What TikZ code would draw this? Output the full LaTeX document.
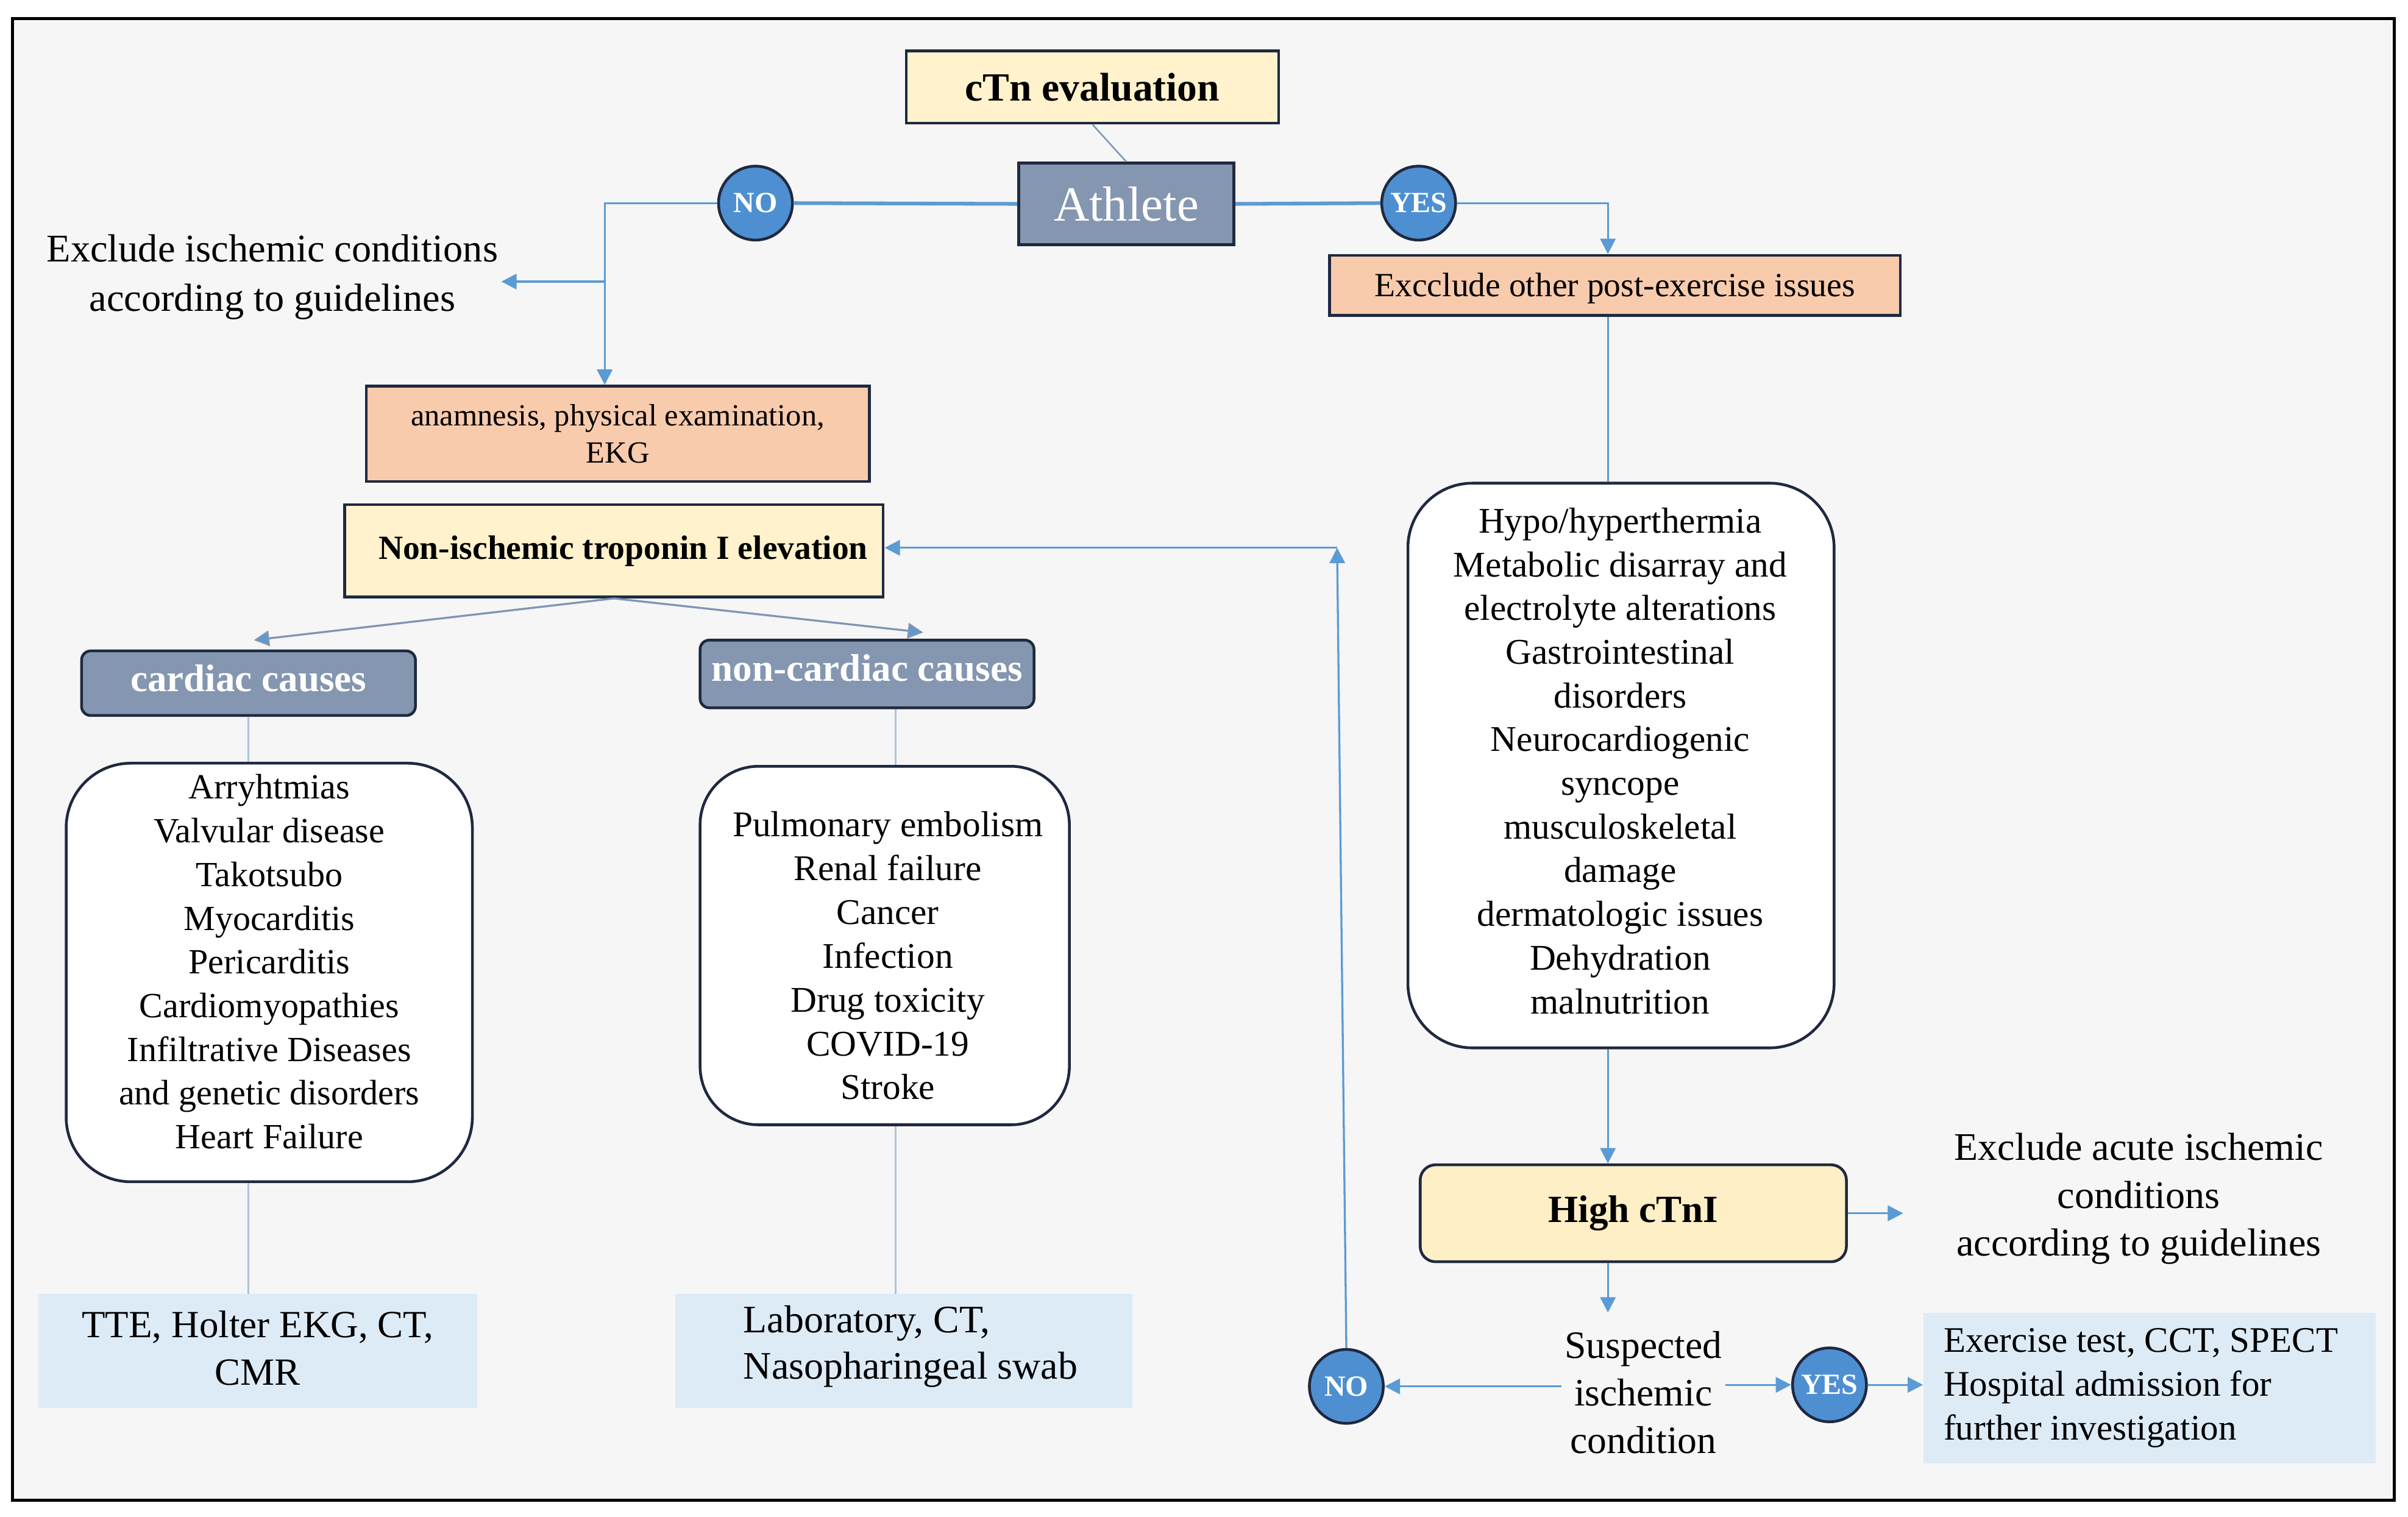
\documentclass[tikz,border=0pt]{standalone}
\usepackage{fontspec}
\setmainfont{Liberation Serif}
\usetikzlibrary{arrows.meta,calc}
\definecolor{bgc}{HTML}{F6F6F6}
\definecolor{yel}{HTML}{FFF2CC}
\definecolor{yelh}{HTML}{FFEFC6}
\definecolor{peach}{HTML}{F8CBAD}
\definecolor{slate}{HTML}{8496B0}
\definecolor{circ}{HTML}{4E8FD2}
\definecolor{lblue}{HTML}{DDEBF7}
\definecolor{bord}{HTML}{1F2940}
\definecolor{conn}{HTML}{5B9BD5}
\definecolor{pale}{HTML}{A9C4E2}
\definecolor{grayblue}{HTML}{7F95B5}
\tikzset{
  box/.style={draw=bord,line width=1.8pt,inner sep=0pt,align=center,text=black},
  listbox/.style={box,fill=white,rounded corners=42pt},
  circnode/.style={circle,draw=bord,line width=1.8pt,fill=circ,minimum size=48pt,inner sep=0pt,text=white,font=\fontsize{19}{20}\selectfont\bfseries},
  plain/.style={inner sep=2pt,align=center},
  arr/.style={draw=conn,line width=1.3pt,-{Triangle[length=10pt,width=10pt]}},
  ln/.style={draw=conn,line width=1.2pt},
  thick/.style={draw=conn,line width=2.4pt},
  paleln/.style={draw=pale,line width=1.1pt},
  garr/.style={draw=grayblue,line width=1.3pt,-{Triangle[length=10pt,width=10pt,fill=conn]}},
}
\begin{document}
\begin{tikzpicture}[x=1pt,y=-1pt]
\useasboundingbox (0,0) rectangle (1565,985.5);
\fill[white] (0,0) rectangle (1565,985.5);
\draw[fill=bgc,draw=black,line width=2pt] (8,12) rectangle (1556,975);

% top
\node[box,fill=yel,minimum width=242pt,minimum height=47pt,font=\fontsize{26}{30}\selectfont\bfseries] (ctn) at (710,56.5) {cTn evaluation};
\node[box,fill=slate,minimum width=140pt,minimum height=53pt,text=white,font=\fontsize{32}{36}\selectfont] (ath) at (732,132.5) {Athlete};
\node[circnode] (no1) at (491,132) {NO};
\node[circnode] (yes1) at (922,132) {YES};

\node[plain,font=\fontsize{25.5}{32}\selectfont] (excl1) at (177,180) {Exclude ischemic conditions\\according to guidelines};
\node[box,fill=peach,minimum width=371pt,minimum height=39pt,text height=19pt,text depth=4.7pt,font=\fontsize{22}{26}\selectfont] (exc2) at (1049.5,185.5) {Excclude other post-exercise issues};
\node[box,fill=peach,minimum width=327pt,minimum height=62pt,font=\fontsize{20}{24}\selectfont] (anam) at (401.5,282) {anamnesis, physical examination,\\EKG};
\node[box,fill=yel,minimum width=350pt,minimum height=60pt,font=\fontsize{22}{26}\selectfont\bfseries] (nonisch) at (399,358) {\hspace*{12pt}Non-ischemic troponin I elevation};

\node[box,fill=slate,rounded corners=6pt,minimum width=217pt,minimum height=42pt,text height=17pt,text depth=6pt,text=white,font=\fontsize{25}{28}\selectfont\bfseries] (card) at (161.5,444) {cardiac causes};
\node[box,fill=slate,rounded corners=6pt,minimum width=217pt,minimum height=44pt,text height=17pt,text depth=8pt,text=white,font=\fontsize{25}{28}\selectfont\bfseries] (noncard) at (563.5,438) {non-cardiac causes};

% list boxes
\node[listbox,minimum width=264pt,minimum height=272pt] (cardlist) at (175,632) {};
\node[plain,font=\fontsize{23}{28.4}\selectfont] (cardtxt) at (175,625) {Arryhtmias\\Valvular disease\\Takotsubo\\Myocarditis\\Pericarditis\\Cardiomyopathies\\Infiltrative Diseases\\and genetic disorders\\Heart Failure};
\node[listbox,rounded corners=38pt,minimum width=240pt,minimum height=233pt] (noncardlist) at (575,614.5) {};
\node[plain,font=\fontsize{23.5}{28.5}\selectfont] (noncardtxt) at (577,621) {Pulmonary embolism\\Renal failure\\Cancer\\Infection\\Drug toxicity\\COVID-19\\Stroke};
\node[listbox,minimum width=277pt,minimum height=367pt] (postlist) at (1053.5,497.5) {};
\node[plain,font=\fontsize{23.5}{28.4}\selectfont] (posttxt) at (1053,494.5) {Hypo/hyperthermia\\Metabolic disarray and\\electrolyte alterations\\Gastrointestinal\\disorders\\Neurocardiogenic\\syncope\\musculoskeletal\\damage\\dermatologic issues\\Dehydration\\malnutrition};

\node[box,fill=yelh,rounded corners=10pt,minimum width=277pt,minimum height=63pt,font=\fontsize{25}{28}\selectfont\bfseries] (highc) at (1061.5,788.5) {High cTnI};
\node[plain,font=\fontsize{25.4}{31}\selectfont] (excl2) at (1390,779) {Exclude acute ischemic\\conditions\\according to guidelines};
\node[plain,font=\fontsize{25.2}{31}\selectfont] (susp) at (1068,905) {Suspected\\ischemic\\condition};
\node[circnode] (no2) at (875,901) {NO};
\node[circnode] (yes2) at (1189,900) {YES};

\node[fill=lblue,minimum width=294pt,minimum height=98pt,inner sep=0pt] (exer) at (1397,902) {};
\node[anchor=west,align=left,inner sep=0pt,font=\fontsize{23.4}{28.5}\selectfont] (exertxt) at (1263,902) {Exercise test, CCT, SPECT\\Hospital admission for\\further investigation};

\node[fill=lblue,minimum width=285pt,minimum height=74pt,inner sep=0pt] (tte) at (167.5,878) {};
\node[plain,font=\fontsize{25}{31}\selectfont] (ttetxt) at (167.5,876) {TTE, Holter EKG, CT,\\CMR};
\node[fill=lblue,minimum width=297pt,minimum height=74pt,inner sep=0pt] (lab) at (587.5,878) {};
\node[anchor=west,align=left,inner sep=0pt,font=\fontsize{25.3}{30}\selectfont] (labtxt) at (483,875) {Laboratory, CT,\\Nasopharingeal swab};

% connectors
\draw[ln,draw=grayblue,line width=1pt] (ctn.south) -- (ath.north);
\draw[thick] (ath.west) -- (no1.east);
\draw[thick] (ath.east) -- (yes1.west);
\coordinate (nl) at (393,132);
\coordinate (nb) at (393,183);
\draw[arr] (no1.west) -- (nl) -- (nl |- anam.north);
\draw[arr] (nb) -- (excl1.east |- nb);
\coordinate (yr) at (1045,132);
\draw[arr] (yes1.east) -- (yr) -- (yr |- exc2.north);
\coordinate (ex) at (1045,205);
\draw[ln] (ex |- exc2.south) -- (ex |- postlist.north);
\draw[arr] (ex |- postlist.south) -- (ex |- highc.north);
\draw[arr] (highc.east) -- ++(36,0);
\draw[arr] (ex |- highc.south) -- (1045,853);
\draw[arr] (susp.west |- no2.east) -- (no2.east);
\draw[arr] (susp.east |- yes2.west) -- (yes2.west);
\draw[arr] (yes2.east) -- (exer.west |- yes2.east);
\coordinate (ret) at (869,356);
\draw[arr] (no2.north) -- (ret);
\draw[arr] (ret) -- (ret -| nonisch.east);
\coordinate (ca) at (165,416);
\coordinate (nca) at (600,411);
\draw[garr] (nonisch.south) -- (ca);
\draw[garr] (nonisch.south) -- (nca);
\draw[paleln] (card.south) -- (card.south |- cardlist.north);
\draw[paleln] (card.south |- cardlist.south) -- (card.south |- tte.north);
\coordinate (nc) at (582,460);
\draw[paleln] (nc |- noncard.south) -- (nc |- noncardlist.north);
\draw[paleln] (nc |- noncardlist.south) -- (nc |- lab.north);
\end{tikzpicture}
\end{document}
